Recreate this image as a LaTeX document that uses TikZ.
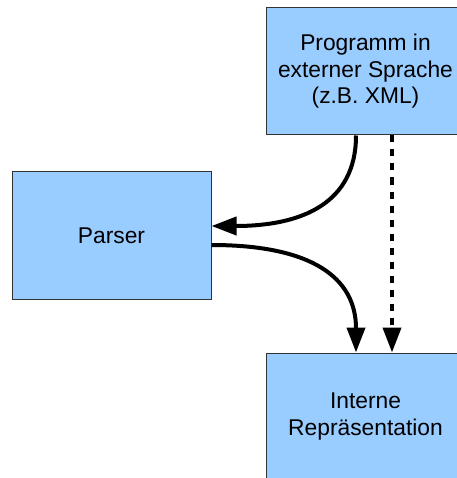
\documentclass[tikz,border=0pt]{standalone}
\usepackage{fontspec}
\setmainfont{Liberation Sans}
\usetikzlibrary{arrows.meta}
\definecolor{boxfill}{HTML}{99CCFF}
\definecolor{boxline}{HTML}{333333}
\begin{document}
\begin{tikzpicture}[x=1pt,y=-1pt,
  blockbox/.style={draw=boxline, line width=1pt, fill=boxfill, rectangle,
    minimum width=199pt, minimum height=127pt, inner sep=0pt, align=center,
    font=\fontsize{22.8}{26.5}\selectfont},
  conn/.style={line width=4pt, -{Triangle[length=25pt,width=18pt]}},
  dashconn/.style={line width=4pt, dash pattern=on 7pt off 7pt, -{Triangle[length=25pt,width=18pt]}}
]
\useasboundingbox (0,0) rectangle (456,478);
\node[blockbox] (ext) at (365.5,71.5) {Programm in\\externer Sprache\\(z.B. XML)};
\node[blockbox] (parser) at (111.5,235.5) {Parser};
\node[blockbox] (intern) at (365.5,416.5) {Interne\\Repräsentation};
\coordinate (a1) at ([xshift=-9.5pt]ext.south);
\coordinate (a2) at ([yshift=9.5pt]parser.east);
\coordinate (b1) at ([yshift=-9.5pt]parser.east);
\coordinate (b2) at ([xshift=-9.5pt]intern.north);
\coordinate (d1) at ([xshift=26.5pt]ext.south);
\coordinate (d2) at ([xshift=26.5pt]intern.north);
\draw[conn] (a1) .. controls ++(0,68) and ++(90,0) .. (a2);
\draw[conn] (b1) .. controls ++(100,0) and ++(0,-75) .. (b2);
\draw[dashconn] (d1) -- (d2);
\end{tikzpicture}
\end{document}
